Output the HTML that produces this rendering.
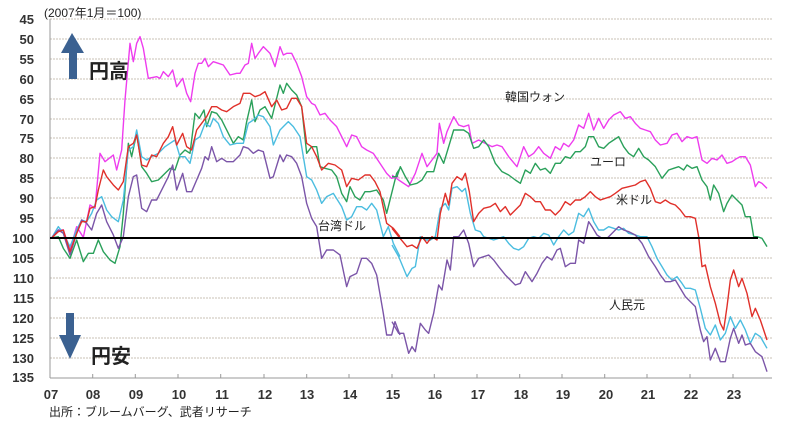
<!DOCTYPE html>
<html><head><meta charset="utf-8"><style>
body{margin:0;background:#fff;}
svg{display:block;font-family:"Liberation Sans","Noto Sans CJK JP",sans-serif;}
</style></head><body>
<svg width="792" height="430" viewBox="0 0 792 430" xmlns="http://www.w3.org/2000/svg">
<g stroke="#c8c0b4" stroke-width="1" stroke-dasharray="2,1">
<line x1="50" x2="772" y1="19" y2="19"/><line x1="50" x2="772" y1="39" y2="39"/><line x1="50" x2="772" y1="59" y2="59"/><line x1="50" x2="772" y1="79" y2="79"/><line x1="50" x2="772" y1="99" y2="99"/><line x1="50" x2="772" y1="119" y2="119"/><line x1="50" x2="772" y1="138" y2="138"/><line x1="50" x2="772" y1="158" y2="158"/><line x1="50" x2="772" y1="178" y2="178"/><line x1="50" x2="772" y1="198" y2="198"/><line x1="50" x2="772" y1="218" y2="218"/><line x1="50" x2="772" y1="258" y2="258"/><line x1="50" x2="772" y1="278" y2="278"/><line x1="50" x2="772" y1="298" y2="298"/><line x1="50" x2="772" y1="318" y2="318"/><line x1="50" x2="772" y1="338" y2="338"/><line x1="50" x2="772" y1="358" y2="358"/>
</g>
<g stroke="#999" stroke-width="1">
<line x1="50" x2="50" y1="19" y2="378"/><line x1="50" x2="772" y1="378" y2="378"/>
<line x1="92.7" x2="92.7" y1="374" y2="378"/><line x1="135.3" x2="135.3" y1="374" y2="378"/><line x1="178" x2="178" y1="374" y2="378"/><line x1="220.7" x2="220.7" y1="374" y2="378"/><line x1="264" x2="264" y1="374" y2="378"/><line x1="306.7" x2="306.7" y1="374" y2="378"/><line x1="349" x2="349" y1="374" y2="378"/><line x1="392" x2="392" y1="374" y2="378"/><line x1="434.3" x2="434.3" y1="374" y2="378"/><line x1="477" x2="477" y1="374" y2="378"/><line x1="519.7" x2="519.7" y1="374" y2="378"/><line x1="562" x2="562" y1="374" y2="378"/><line x1="604.7" x2="604.7" y1="374" y2="378"/><line x1="647" x2="647" y1="374" y2="378"/><line x1="690" x2="690" y1="374" y2="378"/><line x1="733" x2="733" y1="374" y2="378"/>
</g>
<g font-size="13" fill="#333" text-anchor="end" font-weight="bold">
<text x="34" y="24">45</text><text x="34" y="44">50</text><text x="34" y="64">55</text><text x="34" y="84">60</text><text x="34" y="104">65</text><text x="34" y="124">70</text><text x="34" y="143">75</text><text x="34" y="163">80</text><text x="34" y="183">85</text><text x="34" y="203">90</text><text x="34" y="223">95</text><text x="34" y="243">100</text><text x="34" y="263">105</text><text x="34" y="283">110</text><text x="34" y="303">115</text><text x="34" y="323">120</text><text x="34" y="343">125</text><text x="34" y="363">130</text><text x="34" y="382">135</text>
</g>
<g font-size="13" fill="#333" text-anchor="middle" font-weight="bold">
<text x="51" y="399">07</text><text x="93" y="399">08</text><text x="136" y="399">09</text><text x="179" y="399">10</text><text x="222" y="399">11</text><text x="265" y="399">12</text><text x="307" y="399">13</text><text x="350" y="399">14</text><text x="393" y="399">15</text><text x="435" y="399">16</text><text x="478" y="399">17</text><text x="521" y="399">18</text><text x="563" y="399">19</text><text x="606" y="399">20</text><text x="648" y="399">21</text><text x="691" y="399">22</text><text x="734" y="399">23</text>
</g>
<text x="44" y="17" font-size="12" fill="#222">(2007年1月＝100)</text>
<text x="49" y="416" font-size="12" fill="#222">出所：ブルームバーグ、武者リサーチ</text>
<g fill="#3b6191">
<polygon points="72,33 84,53 61,53"/><rect x="69" y="52" width="8" height="27"/>
<rect x="66" y="313" width="8" height="23"/><polygon points="59,335 81,335 70,359"/>
</g>
<text x="89" y="78" font-size="20" font-weight="bold" fill="#222">円高</text>
<text x="91" y="363" font-size="20" font-weight="bold" fill="#222">円安</text>
<g font-size="12" fill="#222">
<text x="505" y="101">韓国ウォン</text><text x="590" y="166">ユーロ</text><text x="616" y="204">米ドル</text><text x="318" y="230">台湾ドル</text><text x="609" y="309">人民元</text>
</g>
<g fill="none" stroke-width="1.4" stroke-linejoin="round">
<g transform="scale(0.33333)">
<polyline vector-effect="non-scaling-stroke" stroke="#ee3cee" points="155,714 175,690 190,690 210,750 230,680 250,712 270,615 285,625 300,460 315,485 340,465 350,510 365,450 375,300 390,130 400,185 410,130 420,110 430,145 445,235 470,230 480,235 490,215 505,230 518,210 530,260 548,235 560,280 572,305 585,220 595,190 605,190 615,175 625,200 640,185 655,190 670,195 690,225 710,220 720,220 735,195 745,190 755,130 765,175 775,160 790,140 810,160 825,200 840,140 850,165 860,160 875,160 890,190 905,230 920,290 935,310 945,315 960,345 975,340 990,360 1010,380 1030,420 1040,440 1055,405 1070,410 1085,440 1100,450 1120,460 1140,490 1160,520 1175,535 1195,530"/>
<polyline vector-effect="non-scaling-stroke" stroke="#2aa05a" points="155,714 175,710 190,745 210,775 230,720 250,785 265,760 280,760 295,720 310,755 330,780 345,790 360,740 370,640 385,430 395,470 410,400 425,500 440,520 455,545 475,540 495,520 510,505 525,510 540,465 555,450 570,460 585,340 598,355 612,330 620,380 635,335 650,340 665,360 680,390 700,430 715,410 730,420 740,365 755,300 765,365 780,330 795,320 815,355 840,255 850,280 860,250 875,270 890,285 905,320 920,460 935,440 950,440 960,500 975,505 995,510 1010,530 1025,580 1040,605 1050,560 1065,590 1080,600 1095,575 1110,575 1130,570 1150,600 1160,640 1175,580 1190,520 1200,505"/>
<polyline vector-effect="non-scaling-stroke" stroke="#4bbde0" points="155,714 175,680 190,700 210,740 230,690 245,660 260,665 275,640 290,600 305,590 320,630 335,650 355,665 370,600 385,450 400,440 410,390 425,470 440,480 455,470 475,460 495,440 510,430 525,420 540,470 555,470 570,490 585,420 600,410 615,370 630,380 640,355 655,370 670,410 690,435 710,430 730,430 745,370 760,360 775,345 790,350 810,380 820,435 840,390 850,380 865,365 880,380 900,410 920,530 935,540 950,570 965,610 980,590 1000,580 1025,620 1040,660 1055,650 1070,620 1085,620 1100,630 1115,610 1130,630 1150,710 1165,680 1180,730 1200,770"/>
<polyline vector-effect="non-scaling-stroke" stroke="#7b55a8" points="155,714 175,690 190,700 210,765 230,700 245,660 260,670 275,690 290,640 305,615 320,665 340,705 355,745 370,710 385,590 400,530 410,525 425,625 440,635 455,600 470,600 490,560 505,530 518,495 530,570 548,520 560,575 575,575 590,540 605,505 615,470 625,480 635,440 650,485 665,475 680,485 700,485 720,465 730,440 745,445 760,460 775,450 790,455 810,535 820,530 840,465 850,485 860,465 875,470 890,490 905,530 920,610 935,655 950,680 965,775 980,750 1000,750 1020,765 1040,860 1050,830 1070,820 1085,775 1100,775 1115,790 1130,825 1150,940 1160,1005 1175,1005 1185,965 1200,1005"/>
<polyline vector-effect="non-scaling-stroke" stroke="#e0302a" points="155,714 175,695 190,690 210,755 230,700 245,665 260,665 270,625 285,620 295,570 310,510 320,530 340,555 355,570 370,545 385,440 400,430 410,405 425,495 440,500 455,465 470,470 490,430 505,410 518,380 530,435 548,400 560,440 575,450 590,390 605,370 620,350 635,320 650,320 665,330 680,335 700,320 720,310 730,280 750,280 765,290 780,285 795,275 815,320 830,300 845,330 860,325 875,295 890,295 905,320 920,430 935,440 950,470 965,510 985,490 1005,495 1025,510 1040,560 1055,535 1075,540 1095,525 1110,525 1125,545 1140,575 1160,670 1180,685 1200,710"/>
</g>
<g transform="translate(392,0) scale(0.33333)">
<polyline vector-effect="non-scaling-stroke" stroke="#ee3cee" points="0,525 20,540 50,560 70,520 90,460 105,500 120,480 135,460 142,370 155,430 165,395 185,350 200,375 215,380 230,375 240,430 260,420 280,430 300,440 315,435 330,440 350,470 375,500 395,440 410,470 425,460 440,440 455,460 475,475 490,440 505,450 515,430 530,440 545,420 560,375 575,385 590,340 605,390 620,355 635,385 650,360 665,345 685,335 700,355 715,350 730,370 745,385 760,390 775,395 790,420 805,435 825,430 840,405 855,400 870,425 885,410 900,415 915,410 930,480 945,490 960,475 975,480 990,465 1005,490 1020,485 1035,475 1045,470 1060,470 1075,495 1090,560 1100,545 1110,550 1125,565"/>
<polyline vector-effect="non-scaling-stroke" stroke="#2aa05a" points="0,530 15,530 25,500 40,530 55,555 75,550 90,540 105,515 125,515 140,460 155,490 170,440 185,390 200,390 215,390 230,400 245,445 260,440 275,420 290,440 310,490 330,515 350,525 370,540 385,550 400,510 415,520 430,490 445,510 460,505 475,520 490,490 505,490 520,470 535,475 550,455 565,455 580,440 590,410 605,410 620,440 635,445 650,430 665,420 680,410 695,440 710,460 725,470 740,445 755,470 770,480 790,500 810,535 830,510 845,505 860,500 875,510 885,495 900,505 915,500 930,540 945,560 955,600 965,555 980,580 995,635 1005,610 1020,585 1035,600 1050,615 1060,650 1075,650 1085,710 1095,710 1110,715 1125,740"/>
<polyline vector-effect="non-scaling-stroke" stroke="#4bbde0" points="0,735 20,770 45,830 60,805 70,800 85,710 100,720 115,720 130,710 145,625 160,610 170,630 180,565 195,560 210,575 220,565 235,640 250,690 265,695 275,710 290,715 305,720 320,715 335,710 350,730 365,745 380,750 395,740 410,715 425,710 440,715 455,700 470,705 485,735 500,710 515,690 530,705 545,695 560,640 575,650 590,625 605,665 620,690 635,690 650,680 665,685 680,690 695,685 710,700 730,705 745,710 765,710 780,740 795,775 810,800 825,825 840,840 855,830 870,850 880,865 895,865 910,870 925,925 940,985 955,1005 970,975 985,1020 1000,1000 1015,950 1030,985 1045,960 1060,990 1075,1030 1090,1000 1105,1010 1125,1045"/>
<polyline vector-effect="non-scaling-stroke" stroke="#7b55a8" points="0,965 20,1000 35,1000 50,1060 60,1040 70,1055 85,970 100,990 110,1000 125,940 140,855 150,870 165,780 175,810 185,710 200,710 215,690 230,730 245,800 260,775 275,770 290,765 305,780 320,800 340,825 355,840 370,855 385,850 400,815 420,845 435,820 450,790 465,770 480,780 495,750 505,745 520,800 535,790 550,790 560,720 575,730 590,665 600,680 615,705 630,715 645,715 660,700 680,680 695,690 710,695 730,705 750,730 770,770 790,800 805,825 820,845 835,845 850,840 865,865 880,890 895,905 910,920 925,990 935,1025 945,1010 955,1080 970,1045 985,1085 1000,1085 1015,1015 1025,985 1040,1030 1050,1005 1060,1035 1075,1030 1090,1055 1110,1070 1125,1115"/>
<polyline vector-effect="non-scaling-stroke" stroke="#e0302a" points="0,685 20,710 45,740 60,735 75,745 90,710 105,730 120,710 135,720 145,640 160,580 170,615 180,550 195,530 210,540 220,520 232,575 245,665 260,640 275,625 295,620 310,610 325,635 340,620 355,645 370,630 385,615 400,580 415,590 430,605 445,605 460,630 475,630 490,645 505,630 520,605 535,615 550,600 565,600 580,590 595,575 610,590 625,600 640,595 655,590 670,580 690,565 710,560 730,555 745,545 760,540 775,565 790,605 805,610 820,600 835,610 850,615 865,630 880,650 895,650 910,655 920,710 930,800 940,795 955,860 970,910 985,970 995,990 1005,920 1015,840 1025,810 1040,860 1050,835 1065,880 1080,950 1090,925 1105,960 1125,1020"/>
</g>
</g>
<line x1="50" x2="758" y1="238" y2="238" stroke="#000" stroke-width="2"/>
</svg>
</body></html>
